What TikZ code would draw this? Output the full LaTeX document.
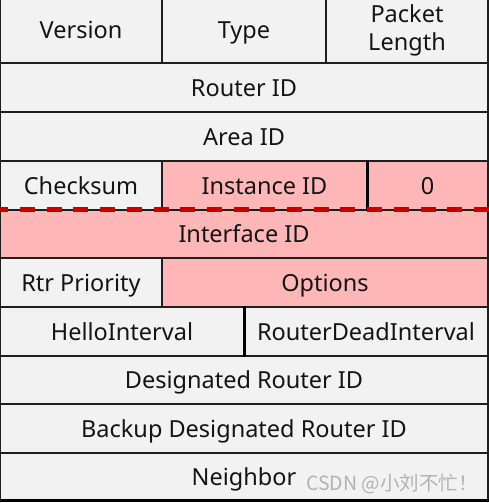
\documentclass[tikz,border=0pt]{standalone}
\usepackage{fontspec}
\usepackage{xcolor}
\usepackage{tikz}
\setmainfont{Noto Sans}
\newfontfamily\cjkfont{Noto Sans CJK SC}
\definecolor{cellgray}{RGB}{242, 242, 242}
\definecolor{fieldpink}{RGB}{255, 182, 182}
\definecolor{dashred}{RGB}{200, 0, 0}
\definecolor{borderdark}{RGB}{30, 30, 30}
\definecolor{textdark}{RGB}{20, 20, 20}

\begin{document}
\begin{tikzpicture}[x=1pt, y=-1pt,
    basefield/.style={draw=borderdark, line width=1.3pt, fill=cellgray, text=textdark,
                  inner sep=0pt, align=center, font=\fontsize{23.5}{28}\selectfont},
    field/.style={basefield, text height=17pt, text depth=0pt},
    newfield/.style={field, fill=fieldpink},
    splitline/.style={line width=3pt, black},
    markline/.style={dashred, line width=5pt, dash pattern=on 15pt off 11.7pt, dash phase=6pt}]
                    \useasboundingbox (0,0) rectangle (489,503);
                    % header row
                    \node[field, minimum width=162pt, minimum height=66pt] (version) at (81,30) {Version};
                    \node[field, minimum width=164pt, minimum height=66pt] (type) at (244,30) {Type};
                    \node[basefield, minimum width=162pt, minimum height=66pt] (pktlen) at (407,30) {Packet\\Length};
                    \node[field, minimum width=488pt, minimum height=49pt] (routerid) at (244,87.5) {Router ID};
                    \node[field, minimum width=488pt, minimum height=49pt] (areaid) at (244,136.5) {Area ID};
                    \node[field, minimum width=162pt, minimum height=49pt] (checksum) at (81,185.5) {Checksum};
                    \node[newfield, minimum width=205pt, minimum height=49pt] (instid) at (264.5,185.5) {Instance ID};
                    \node[newfield, minimum width=121pt, minimum height=49pt] (zero) at (427.5,185.5) {0};
                    \node[newfield, minimum width=488pt, minimum height=48pt] (ifaceid) at (244,234) {Interface ID};
                    \node[field, minimum width=162pt, minimum height=49pt] (rtrprio) at (81,282.5) {Rtr Priority};
                    \node[newfield, minimum width=326pt, minimum height=49pt] (options) at (325,282.5) {Options};
                    \node[field, minimum width=244pt, minimum height=49pt] (hello) at (122,331.5) {HelloInterval};
                    \node[field, minimum width=244pt, minimum height=49pt] (dead) at (366,331.5) {RouterDeadInterval};
                    \node[field, minimum width=488pt, minimum height=48pt] (drid) at (244,380) {Designated Router ID};
                    \node[field, minimum width=488pt, minimum height=49pt] (bdrid) at (244,428.5) {Backup Designated Router ID};
                    \node[field, minimum width=488pt, minimum height=47pt] (neighbor) at (244,476.5) {Neighbor};
                    \node[text=gray!60, font=\cjkfont\fontsize{19.5}{22}\selectfont, inner sep=0pt] (watermark) at (392,484) {CSDN @小刘不忙！};
                    
                    \draw[splitline] (instid.north east) -- (instid.south east);
                    \draw[splitline] (hello.north east) -- (hello.south east);
                    \draw[splitline] (neighbor.south west) -- (neighbor.south east);
                    \draw[markline] (ifaceid.north west) -- (ifaceid.north east);
                \end{tikzpicture}
\end{document}
